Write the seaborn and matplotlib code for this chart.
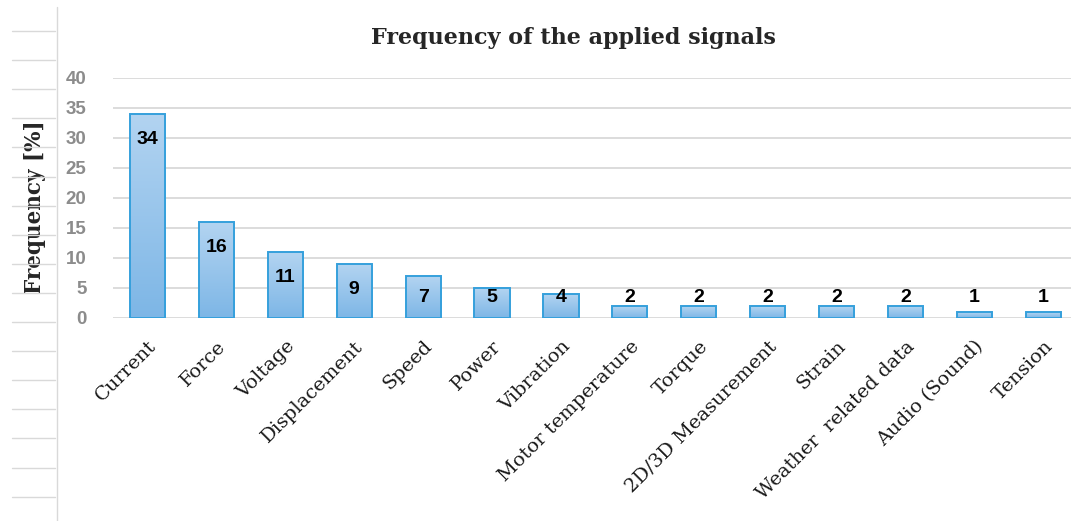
import numpy as np
import matplotlib
matplotlib.use('Agg')
import matplotlib.pyplot as plt
from matplotlib.lines import Line2D
import seaborn as sns

signals = ['Current', 'Force', 'Voltage', 'Displacement', 'Speed', 'Power',
           'Vibration', 'Motor temperature', 'Torque', '2D/3D Measurement',
           'Strain', 'Weather  related data', 'Audio (Sound)', 'Tension']
frequency = [34, 16, 11, 9, 7, 5, 4, 2, 2, 2, 2, 2, 1, 1]
y_ticks = [0, 5, 10, 15, 20, 25, 30, 35, 40]

serif = 'DejaVu Serif'
sans = 'Liberation Sans'


def draw_page_lines(fig):
    # faint table rules on the left of the original page
    W, H = 1081, 521
    fig.add_artist(Line2D([57 / W, 57 / W], [0, 1 - 7 / H],
                          transform=fig.transFigure, color='#d9d9d9', lw=1))
    for yy in np.arange(31, 521, 29.1):
        fig.add_artist(Line2D([12 / W, 55 / W], [1 - yy / H, 1 - yy / H],
                              transform=fig.transFigure, color='#d9d9d9', lw=1))


def gradient_bars(ax):
    grad = np.linspace(0, 1, 256).reshape(-1, 1)
    cmap = matplotlib.colors.LinearSegmentedColormap.from_list(
        'bar', ['#7db6e6', '#b3d4f1'])
    for p in ax.patches:
        x0, y0 = p.get_x(), p.get_y()
        w, h = p.get_width(), p.get_height()
        im = ax.imshow(grad, cmap=cmap, aspect='auto', origin='lower',
                       extent=[x0, x0 + w, y0, y0 + h], zorder=2)
        im.set_clip_path(p)
        p.set_facecolor('none')
        p.set_edgecolor('#35a0dc')
        p.set_linewidth(1.4)
        p.set_zorder(3)


def main():
    sns.set_style('white')
    fig = plt.figure(figsize=(10.81, 5.21), dpi=100)
    ax = fig.add_axes([113 / 1081, 203 / 521, 958 / 1081, 240 / 521])

    sns.barplot(x=signals, y=frequency, color='#96c3eb', width=0.51, ax=ax)
    gradient_bars(ax)

    ax.set_xlim(-0.5, len(signals) - 0.6)
    ax.set_ylim(0, 40)
    ax.set_yticks(y_ticks)
    ax.yaxis.grid(True, color='#d9d9d9', linewidth=1.3)
    ax.set_axisbelow(True)
    for s in ax.spines.values():
        s.set_visible(False)

    ax.tick_params(axis='both', length=0)
    ax.tick_params(axis='y', pad=19)
    for lbl in ax.get_yticklabels():
        lbl.set_fontfamily(sans)
        lbl.set_fontweight('bold')
        lbl.set_fontsize(13.5)
        lbl.set_color('#8c8c8c')

    ax.set_xticks(range(len(signals)))
    ax.set_xticklabels(signals, rotation=45, ha='right', rotation_mode='anchor',
                       fontfamily=serif, fontsize=14, color='#1a1a1a')
    ax.tick_params(axis='x', pad=14)

    for i, v in enumerate(frequency):
        ax.text(i, max(v - 4.2, 3.5), str(v), ha='center', va='center',
                fontfamily=sans, fontweight='bold', fontsize=14,
                color='black', zorder=5)

    ax.set_ylabel('Frequency [%]', fontfamily=serif, fontweight='bold',
                  fontsize=15.5)
    ax.yaxis.set_label_coords(-0.07, 0.46)
    ax.set_xlabel('')

    fig.text(573 / 1081, 1 - 38 / 521, 'Frequency of the applied signals',
             ha='center', va='center', fontfamily=serif, fontweight='bold',
             fontsize=16)

    draw_page_lines(fig)
    fig.savefig('out.png', dpi=100)


if __name__ == '__main__':
    main()
